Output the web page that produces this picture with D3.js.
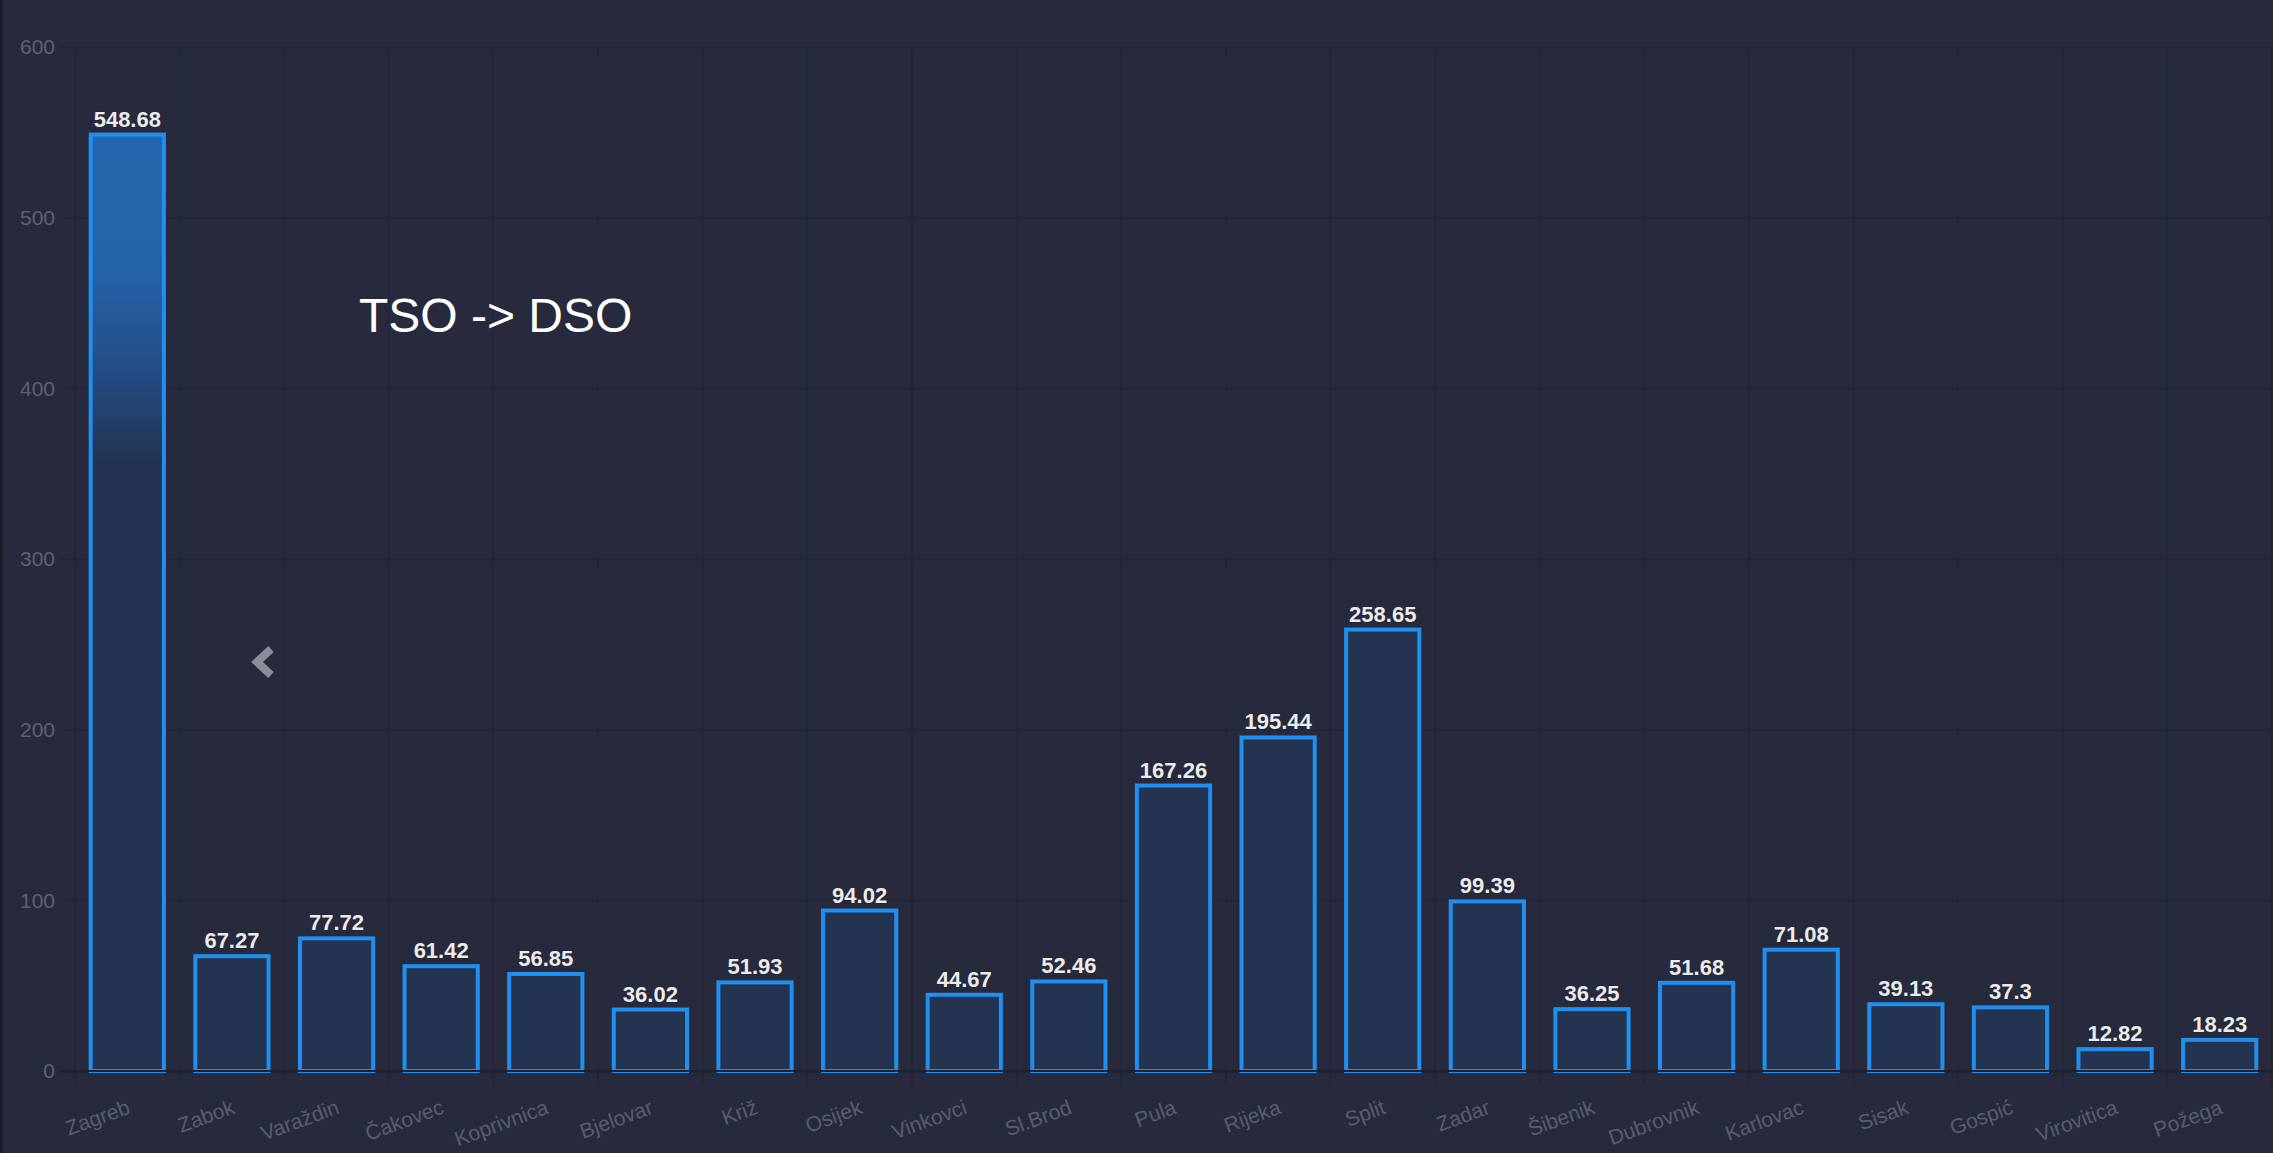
<!DOCTYPE html>
<html>
<head>
<meta charset="utf-8">
<script src="https://cdn.jsdelivr.net/npm/d3@7"></script>
<style>
    html, body { margin: 0; padding: 0; background: #272a3d; overflow: hidden; }
    svg { display: block; font-family: "Liberation Sans", Arial, sans-serif; }
</style>
</head>
<body>
<div id="chart"></div>
<script>
(function () {
    "use strict";

    // --- Data ---
    var cities = ["Zagreb", "Zabok", "Varaždin", "Čakovec", "Koprivnica", "Bjelovar", "Križ",
        "Osijek", "Vinkovci", "Sl.Brod", "Pula", "Rijeka", "Split", "Zadar", "Šibenik",
        "Dubrovnik", "Karlovac", "Sisak", "Gospić", "Virovitica", "Požega"];
    var values = [548.68, 67.27, 77.72, 61.42, 56.85, 36.02, 51.93, 94.02, 44.67, 52.46,
        167.26, 195.44, 258.65, 99.39, 36.25, 51.68, 71.08, 39.13, 37.3, 12.82, 18.23];
    var yTicks = [0, 100, 200, 300, 400, 500, 600];
    var title = "TSO -> DSO";

    var W = 2273, H = 1153;
    var left = 75, right = 2272, top = 47, bottom = 1071;

    var svg = d3.select("#chart").append("svg")
        .attr("width", W)
        .attr("height", H);

    // background + dark left edge
    svg.append("rect").attr("width", W).attr("height", H).attr("fill", "#272a3d");
    svg.append("rect").attr("width", 3).attr("height", H).attr("fill", "#1c1e2c");

    var defs = svg.append("defs");
    var grad = defs.append("linearGradient")
        .attr("id", "hot").attr("x1", 0).attr("y1", 0).attr("x2", 0).attr("y2", 1);
    grad.append("stop").attr("offset", 0).attr("stop-color", "#2466ae");
    grad.append("stop").attr("offset", 0.15).attr("stop-color", "#2462a8");
    grad.append("stop").attr("offset", 0.26).attr("stop-color", "#244a82");
    grad.append("stop").attr("offset", 0.35).attr("stop-color", "#243350");
    grad.append("stop").attr("offset", 1).attr("stop-color", "#243350");

    // --- Scales ---
    var x = d3.scaleBand().domain(cities).range([left, right]).padding(0);
    var y = d3.scaleLinear().domain([0, 600]).range([bottom, top]);

    // --- Grid (horizontal) ---
    var yAxis = svg.append("g")
        .attr("transform", "translate(" + left + ",0)")
        .call(d3.axisLeft(y).tickValues(yTicks).tickSize(-(W - left + 15)).tickPadding(20));
    yAxis.select(".domain").remove();
    yAxis.selectAll(".tick line")
        .attr("x1", -15)
        .attr("stroke", function (d) { return d === 0 ? "#1d2030" : "#23263a"; })
        .attr("stroke-width", function (d) { return d === 0 ? 2 : 1.5; });
    yAxis.selectAll(".tick text")
        .attr("fill", "#5e616d")
        .attr("font-size", 21)
        .attr("font-family", "\"Liberation Sans\", Arial, sans-serif");

    // --- Grid (vertical, at category boundaries) ---
    var bounds = cities.map(function (c) { return x(c); }).concat([right]);
    svg.append("g").selectAll("line")
        .data(bounds)
        .join("line")
        .attr("x1", function (d) { return d; })
        .attr("x2", function (d) { return d; })
        .attr("y1", top)
        .attr("y2", bottom + 14)
        .attr("stroke", "#23263a")
        .attr("stroke-width", 1.5);

    // --- Bars ---
    var bw = x.bandwidth() * 0.7;
    svg.append("g").selectAll("rect")
        .data(values)
        .join("rect")
        .attr("x", function (d, i) { return x(cities[i]) + (x.bandwidth() - bw) / 2; })
        .attr("y", function (d) { return y(d); })
        .attr("width", bw)
        .attr("height", function (d) { return y(0) - y(d); })
        .attr("fill", function (d, i) { return i === 0 ? "url(#hot)" : "#243350"; })
        .attr("stroke", "#1f8ff0")
        .attr("stroke-width", 4);

    // redraw zero line over bar bottoms
    svg.append("line")
        .attr("x1", left - 15).attr("x2", W)
        .attr("y1", y(0)).attr("y2", y(0))
        .attr("stroke", "#1d2030").attr("stroke-width", 2);

    // --- Value labels ---
    svg.append("g").selectAll("text")
        .data(values)
        .join("text")
        .attr("x", function (d, i) { return x(cities[i]) + x.bandwidth() / 2; })
        .attr("y", function (d) { return y(d) - 8; })
        .attr("text-anchor", "middle")
        .attr("font-size", 22)
        .attr("font-weight", "bold")
        .attr("fill", "#ececec")
        .attr("stroke", "#1a1c28")
        .attr("stroke-width", 1)
        .attr("stroke-opacity", 0.5)
        .attr("paint-order", "stroke")
        .text(function (d) { return d; });

    // --- Category labels ---
    svg.append("g").selectAll("text")
        .data(cities)
        .join("text")
        .attr("transform", function (d) {
            return "translate(" + (x(d) + x.bandwidth() / 2 + 4) + "," + (bottom + 42) + ") rotate(-20)";
        })
        .attr("text-anchor", "end")
        .attr("font-size", 21)
        .attr("fill", "#5a5d6a")
        .text(function (d) { return d; });

    // --- Title ---
    svg.append("text")
        .attr("x", 359)
        .attr("y", 332)
        .attr("font-size", 48)
        .attr("fill", "#ffffff")
        .text(title);

    // --- Chevron ---
    svg.append("path")
        .attr("d", "M271,649 L257,662 L271,675")
        .attr("fill", "none")
        .attr("stroke", "#8a8c98")
        .attr("stroke-width", 8)
        .attr("stroke-linejoin", "miter");
})();
</script>
</body>
</html>
